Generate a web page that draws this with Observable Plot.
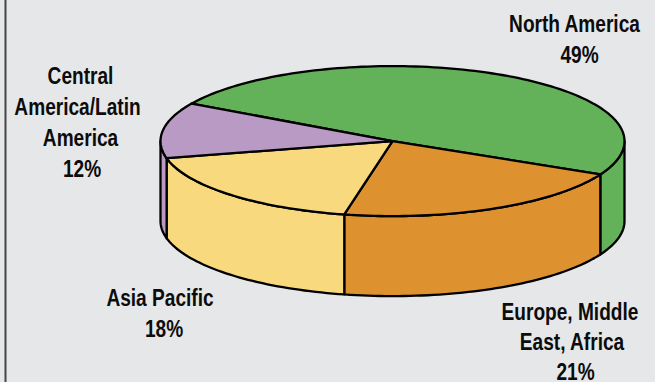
<!DOCTYPE html>
<html>
<head>
<meta charset="utf-8">
<script src="https://cdn.jsdelivr.net/npm/d3@7"></script>
<script src="https://cdn.jsdelivr.net/npm/@observablehq/plot@0.6"></script>
<style>
  html, body { margin: 0; padding: 0; background: #e6e7e9; overflow: hidden; }
  svg { display: block; }
</style>
</head>
<body>
<div id="chart"></div>
<script>
// Revenue share by region, clockwise from the back-left of the disc
const regions = ["North America", "Europe, Middle East, Africa", "Asia Pacific", "Central America/Latin America"];
const shares = [49, 21, 18, 12];
const sliceColors = ["#63b158", "#de922f", "#f8d97d", "#b99ac5"];

// Wrapped label lines for each region, with the region index they belong to
const labelLines = [
  { region: 0, text: "North America", x: 574, y: 31.5 },
  { region: 1, text: "Europe, Middle", x: 569.5, y: 319 },
  { region: 1, text: "East, Africa", x: 571.5, y: 349.5 },
  { region: 2, text: "Asia Pacific", x: 159.5, y: 305 },
  { region: 3, text: "Central", x: 80, y: 83.5 },
  { region: 3, text: "America/Latin", x: 77, y: 114 },
  { region: 3, text: "America", x: 80, y: 145 }
];
const percentLines = [
  { region: 0, x: 579, y: 62 },
  { region: 1, x: 575, y: 379.5 },
  { region: 2, x: 163.5, y: 336 },
  { region: 3, x: 81.5, y: 176 }
];

// Cylinder shape in chart units, and the angle where the first slice begins
const disc = { cx: 392, cy: 140.6, rx: 232, ry: 75, depth: 80, startDeg: 210 };

const toPoint = (deg, drop = 0) => ({
  px: disc.cx + disc.rx * Math.cos(deg * Math.PI / 180),
  py: disc.cy + disc.ry * Math.sin(deg * Math.PI / 180) + drop
});

// Points along the rim between two angles
const rim = (from, to, drop = 0) => {
  const steps = Math.max(2, Math.ceil(Math.abs(to - from) / 1.5));
  return d3.range(steps + 1).map((i) => toPoint(from + (to - from) * i / steps, drop));
};

// Each slice's angular extent, accumulated from the shares
const total = d3.sum(shares);
let running = disc.startDeg;
const slices = shares.map((share, i) => {
  const start = running;
  running += share / total * 360;
  return { i, start, end: running };
});

const topFaces = [];
const walls = [];
for (const { i, start, end } of slices) {
  [{ px: disc.cx, py: disc.cy }, ...rim(start, end)].forEach((p) =>
    topFaces.push({ ...p, slice: regions[i] }));
  // Only the near half of the disc (0° to 180°, also 360° to 540°) shows a wall
  for (const [lo, hi] of [[0, 180], [360, 540]]) {
    const a = Math.max(start, lo), b = Math.min(end, hi);
    if (a < b) {
      [...rim(a, b), ...rim(b, a, disc.depth)].forEach((p) =>
        walls.push({ ...p, slice: regions[i] }));
    }
  }
}

const outline = { stroke: "#000", strokeWidth: 2.3, strokeLinejoin: "round", curve: "linear-closed" };
const textStyle = {
  fontFamily: "'Liberation Sans', Arial, sans-serif",
  fontWeight: 700,
  fontSize: 23,
  fill: "#0c0c0c",
  textAnchor: "middle",
  lineAnchor: "bottom"
};

const chart = Plot.plot({
  width: 655,
  height: 382,
  margin: 0,
  style: { background: "#e6e7e9" },
  x: { domain: [0, 655], range: [0, 655], axis: null },
  y: { domain: [0, 382], range: [0, 382], axis: null },
  color: { domain: regions, range: sliceColors },
  marks: [
    Plot.ruleX([5], { stroke: "#444547", strokeWidth: 2 }),
    Plot.line(walls, { x: "px", y: "py", z: "slice", fill: "slice", ...outline }),
    Plot.line(topFaces, { x: "px", y: "py", z: "slice", fill: "slice", ...outline }),
    Plot.text(labelLines, { x: "x", y: "y", text: "text", ...textStyle }),
    Plot.text(percentLines, { x: "x", y: "y", text: (d) => `${shares[d.region]}%`, ...textStyle })
  ]
});
document.getElementById("chart").append(chart);

// The labels are set in a condensed bold: squeeze the glyphs once they can be measured
const condense = 0.83;
chart.querySelectorAll("text").forEach((t) => {
  t.setAttribute("textLength", (t.getComputedTextLength() * condense).toFixed(1));
  t.setAttribute("lengthAdjust", "spacingAndGlyphs");
});
</script>
</body>
</html>
